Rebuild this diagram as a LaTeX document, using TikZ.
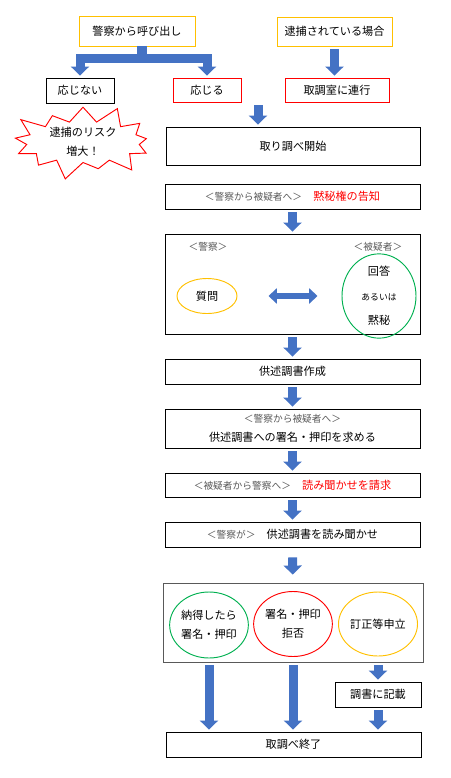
\documentclass[tikz,border=0pt]{standalone}
\usepackage{fontspec}
\setmainfont{Noto Sans CJK JP}
\usetikzlibrary{arrows.meta,positioning,shapes.geometric,shapes.symbols}
\definecolor{boxgold}{HTML}{FFC000}
\definecolor{boxred}{HTML}{FF0000}
\definecolor{boxgreen}{HTML}{00B050}
\definecolor{arrowblue}{HTML}{4472C4}
\definecolor{notegray}{HTML}{595959}
\newcommand{\aside}[1]{{\fontsize{8.3}{16}\selectfont\color{notegray}#1}}

\begin{document}
\begin{tikzpicture}[x=0.03cm,y=-0.03cm,font=\fontsize{9.5}{16}\selectfont,
  box/.style={draw,line width=0.8pt,inner sep=0pt,align=center},
  oval/.style={draw,ellipse,line width=0.8pt,inner sep=0pt,align=center},
  blk/.style={arrowblue,line width=0.27cm,line join=miter,-{Triangle[width=0.54cm,length=0.27cm]},shorten <=0.09cm,shorten >=0.06cm},
  dblk/.style={arrowblue,line width=0.2cm,{Triangle[width=0.45cm,length=0.25cm]}-{Triangle[width=0.45cm,length=0.25cm]}}]
\useasboundingbox (0,0) rectangle (451,778);

\node[box,draw=boxgold,minimum width=3.48cm,minimum height=0.9cm] (call) at (137,31) {警察から呼び出し};
\node[box,draw=boxgold,minimum width=3.45cm,minimum height=0.87cm] (arrest) at (334.5,31.5) {逮捕されている場合};
\node[box,minimum width=2.04cm,minimum height=0.75cm] (refuse) at (80,90.5) {応じない};
\node[box,draw=boxred,minimum width=2.04cm,minimum height=0.72cm] (accept) at (207,90) {応じる};
\node[box,draw=boxred,minimum width=3.12cm,minimum height=0.72cm] (room) at (337,90) {取調室に連行};
\node[starburst,draw=boxred,line width=0.8pt,minimum width=4.6cm,minimum height=2.1cm,starburst points=13,starburst point height=0.6cm,inner sep=0pt,align=center] (risk) at (83,142) {逮捕のリスク\\増大！};
\node[box,minimum width=7.62cm,minimum height=1.14cm] (start) at (293,146) {取り調べ開始};
\coordinate (split) at (142,58.5);
\coordinate (merge) at (258,102);

\node[box,minimum width=7.65cm,minimum height=0.75cm] (caution) at (292.5,196.5) {\aside{＜警察から被疑者へ＞}\quad{\color{boxred}黙秘権の告知}};
\node[box,minimum width=7.65cm,minimum height=3cm] (qa) at (292.5,284) {};
\node (lpolice) at (208,247) {\aside{＜警察＞}};
\node (lsuspect) at (378,247) {\aside{＜被疑者＞}};
\node[oval,draw=boxgold,minimum width=1.8cm,minimum height=1.05cm] (question) at (207,296) {質問};
\node[oval,draw=boxgreen,minimum width=2.22cm,minimum height=2.19cm,font=\fontsize{9.5}{21}\selectfont] (answer) at (379,296) {回答\\{\fontsize{7.5}{21}\selectfont あるいは}\\黙秘};

\node[box,minimum width=7.65cm,minimum height=0.75cm] (record) at (292.5,371.5) {供述調書作成};
\node[box,minimum width=7.65cm,minimum height=1.17cm] (sign) at (292.5,428.5) {\aside{＜警察から被疑者へ＞}\\供述調書への署名・押印を求める};
\node[box,minimum width=7.65cm,minimum height=0.72cm] (request) at (292.5,485) {\aside{＜被疑者から警察へ＞}\quad{\color{boxred}読み聞かせを請求}};
\node[box,minimum width=7.65cm,minimum height=0.75cm] (read) at (292.5,534.5) {\aside{＜警察が＞}\quad 供述調書を読み聞かせ};

\node[box,draw=black!65,minimum width=7.8cm,minimum height=2.37cm] (final) at (293,622.5) {};
\node[oval,draw=boxgreen,minimum width=2.34cm,minimum height=1.98cm] (agree) at (209,625) {納得したら\\署名・押印};
\node[oval,draw=boxred,minimum width=2.34cm,minimum height=1.95cm] (reject) at (293,624) {署名・押印\\拒否};
\node[oval,draw=boxgold,minimum width=2.37cm,minimum height=1.92cm] (correct) at (378,624) {訂正等申立};
\node[box,minimum width=2.58cm,minimum height=0.75cm] (note) at (378,694.5) {調書に記載};
\node[box,minimum width=7.65cm,minimum height=0.75cm] (end) at (293.5,744.5) {取調べ終了};

\draw[arrowblue,line width=0.3cm] (split |- call.south) -- (split);
\draw[blk,shorten <=0pt] (split) -| (refuse);
\draw[blk,shorten <=0pt] (split) -| (accept);
\draw[blk] (arrest.south) -- (arrest.south |- room.north);
\draw[blk] (merge) -- (merge |- start.north);
\draw[blk] (caution) -- (qa);
\draw[dblk,shorten <=0.93cm,shorten >=0.72cm] (question) -- (answer);
\draw[blk] (qa) -- (record);
\draw[blk] (record) -- (sign);
\draw[blk] (sign) -- (request);
\draw[blk] (request) -- (read);
\draw[blk,shorten <=0.3cm,shorten >=0.24cm] (read) -- (final);
\draw[blk] (agree |- final.south) -- (agree |- end.north);
\draw[blk] (reject |- final.south) -- (reject |- end.north);
\draw[blk] (correct |- final.south) -- (note);
\draw[blk] (note) -- (note |- end.north);
\end{tikzpicture}
\end{document}
